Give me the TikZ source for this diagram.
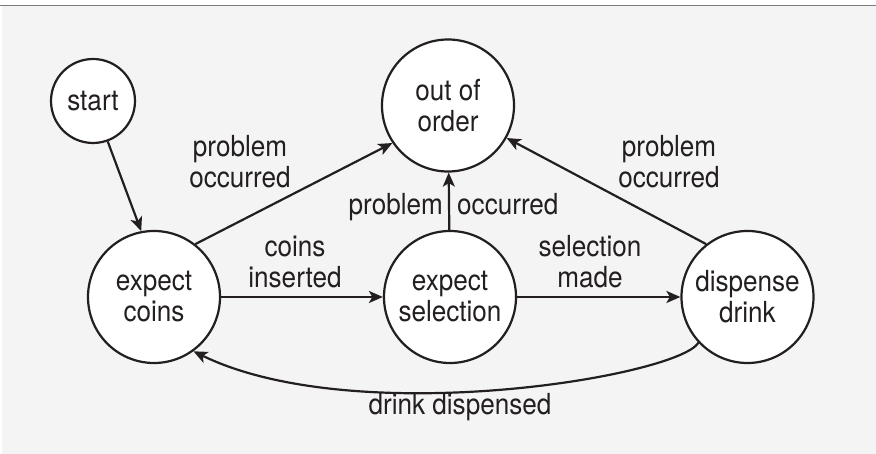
\documentclass[tikz,border=0pt]{standalone}
\usepackage{fontspec}
\setmainfont{TeX Gyre Heros}[FakeStretch=0.9]
\usetikzlibrary{arrows.meta}
\definecolor{ink}{HTML}{231F20}
\definecolor{panel}{HTML}{F4F4F4}
\definecolor{rule}{HTML}{7A7A7A}
\begin{document}
\begin{tikzpicture}[x=1pt,y=1pt,
  every node/.style={font=\fontsize{29}{31}\selectfont, text=ink},
  state/.style={circle, draw=ink, fill=white, line width=2.2pt, inner sep=0pt,
    minimum size=132pt, align=center},
  smallstate/.style={state, minimum size=84pt},
  edge/.style={draw=ink, line width=2.2pt,
    -{Stealth[length=14pt,width=12pt,inset=3.5pt]}},
  lbl/.style={align=center, inner sep=0pt}]
  % canvas and panel
  \useasboundingbox (0,0) rectangle (876,454);
  \fill[white] (0,0) rectangle (876,454);
  \fill[panel] (2.3,0) rectangle (876,448.3);
  \draw[rule, line width=1.5pt] (0,448.3) -- (876,448.3);

  % states
  \node[smallstate] (start) at (93,353) {start};
  \node[state] (ooo)  at (448,348.5) {out of\\order};
  \node[state] (coins) at (154,157) {expect\\coins};
  \node[state] (sel)   at (450,157) {expect\\selection};
  \node[state] (disp)  at (747.5,157) {dispense\\drink};

  % transitions
  \draw[edge] (start.-70) -- (coins.101);
  \draw[edge] (coins.52) -- (ooo.214);
  \draw[edge] (coins) -- (sel);
  \draw[edge] (sel) -- (ooo);
  \draw[edge] (sel) -- (disp);
  \draw[edge] (disp.128) -- (ooo.-29);
  \draw[edge] (disp.223) to[out=-122, in=-26, out distance=40pt, in distance=180pt] (coins.-54);

  % transition labels
  \node[lbl] (l1) at (240,292) {problem\\occurred};
  \node[lbl] (l2) at (669,292) {problem\\occurred};
  \node[lbl] (l3) at (295,192) {coins\\inserted};
  \node[lbl] (l4) at (590,192) {selection\\made};
  \node[lbl, anchor=base east] (l5a) at (443,239) {problem};
  \node[lbl, anchor=base west] (l5b) at (457,239) {occurred};
  \node[lbl, anchor=base] (l6) at (460,39) {drink dispensed};
\end{tikzpicture}
\end{document}
